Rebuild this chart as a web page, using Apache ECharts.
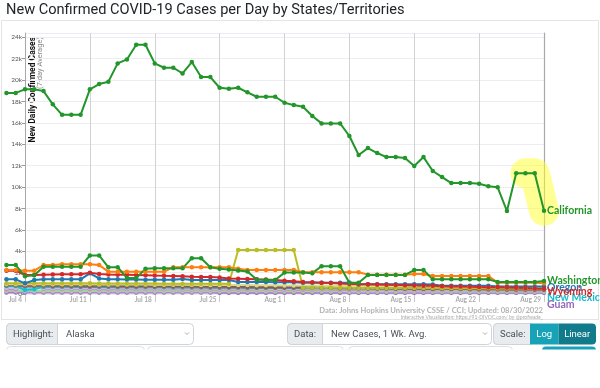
<!DOCTYPE html>
<html><head><meta charset="utf-8">
<script src="https://cdn.jsdelivr.net/npm/echarts@6/dist/echarts.min.js"></script>
<style>html,body{margin:0;padding:0;background:#fff}#c{width:600px;height:388px}</style>
</head><body><div id="c"></div>
<script>
const categories = ['Jul 2','Jul 3','Jul 4','Jul 5','Jul 6','Jul 7','Jul 8','Jul 9','Jul 10','Jul 11','Jul 12','Jul 13','Jul 14','Jul 15','Jul 16','Jul 17','Jul 18','Jul 19','Jul 20','Jul 21','Jul 22','Jul 23','Jul 24','Jul 25','Jul 26','Jul 27','Jul 28','Jul 29','Jul 30','Jul 31','Aug 1','Aug 2','Aug 3','Aug 4','Aug 5','Aug 6','Aug 7','Aug 8','Aug 9','Aug 10','Aug 11','Aug 12','Aug 13','Aug 14','Aug 15','Aug 16','Aug 17','Aug 18','Aug 19','Aug 20','Aug 21','Aug 22','Aug 23','Aug 24','Aug 25','Aug 26','Aug 27','Aug 28','Aug 29'];

const california = [18800,18800, 19130,19130,18970,17730,16750,16750,16750, 19130,19630,19850,21560,21930,23300,23300, 21560,21150,21150,20620,21680,20280,20280, 19280,19190,19280,18850,18440,18440,18440, 17880,17660,17510,16640,15950,15950,15950, 14770,12990,13640,13180,12800,12800,12710, 11960,12800,11500,10930,10370,10370,10370, 10300,10070,9970,7760,11280,11280,11280, 7790];
const washington = [2700,2700, 1650,1750,2550,2550,2550,2550,2550, 3600,3600,2500,2500,1500,1500,2350, 2400,2400,2400,2400,3350,3350,2500, 2350,2300,2200,2100,1350,1300,1300, 2000,2000,2000,1950,2600,2600,2600, 1060,1060,1780,1780,1780,1780,1780, 2240,2240,1370,1370,1370,1370,1370, 1370,1370,1120,1120,1120,1120,1120, 1210];
const orange = [2240,2240, 2180,2180,2710,2710,2770,2770,2770, 2770,2700,2090,2090,2090,2090,2090, 2090,2090,2490,2490,2490,2490,2490, 2490,2490,2370,2240,2240,2240,2240, 2240,2240,2030,2030,2030,2030,2030, 2030,2030,1810,1810,1810,1810,1810, 1870,1870,1680,1680,1680,1680,1680, 1680,1680,1060,1060,1060,1060,1060, 1000];
const olive = [1000,1000, 1000,1000,1000,1000,1000,1000,1000, 1000,990,980,980,980,970,970, 970,960,960,960,950,950,950, 950,950,4110,4110,4110,4110,4110, 4110,4110,590,590,590,580,580, 580,570,570,570,560,560,560, 550,550,550,540,540,540,530, 530,530,520,520,510,510,500, 500];
const wyoming = [2180,2180, 1780,1780,1800,1820,1840,1840,1840, 1990,1870,1820,1800,1790,1780,1760, 1720,1700,1690,1670,1620,1600,1580, 1540,1460,1430,1400,1370,1350,1320, 1250,1200,1120,1100,1060,1020,980, 930,920,900,880,860,830,810, 800,780,760,730,700,690,680, 660,640,620,600,580,560,520, 500];
const oregon = [1370,1370, 1000,1300,1370,1370,1370,1370,1370, 1930,1460,1370,1370,1350,1350,1340, 1340,1330,1330,1400,1310,1310,1310, 1310,1300,1120,1120,1120,1120,1110, 1100,1090,1060,1060,1060,1060,1060, 1060,900,900,900,900,900,900, 900,900,880,780,780,780,780, 780,780,690,690,690,690,690, 690];
const newMexico = [750,750, 370,450,700,720,720,720,720, 800,730,720,720,720,720,720, 720,710,710,710,710,700,700, 700,700,690,680,680,670,660, 650,640,630,620,610,600,590, 580,570,560,560,550,540,530, 520,520,510,500,500,490,490, 480,480,470,470,460,460,450, 450];
const pink = [450,450, 750,750,480,460,460,460,460, 460,450,450,450,450,450,440, 440,440,440,430,430,430,430, 420,420,420,410,410,410,400, 400,400,400,390,390,390,380, 380,380,380,370,370,370,360, 360,360,360,350,350,350,350, 340,340,340,340,330,330,330, 330];
const brown = [820,820, 800,790,790,780,780,780,770, 770,760,760,750,750,740,740, 730,730,720,720,710,700,700, 690,680,680,670,660,650,640, 630,620,610,600,590,580,570, 560,550,540,540,530,520,510, 500,500,490,480,470,460,460, 450,440,440,430,430,420,420, 410];
const lightOlive = [920,920, 900,900,900,900,900,900,900, 900,890,890,890,880,880,880, 870,870,860,860,860,850,850, 840,840,830,830,820,820,810, 800,800,790,790,780,780,770, 760,760,750,750,740,740,730, 720,720,710,710,700,700,690, 680,680,670,670,660,660,650, 650];
const gray = [760,760, 700,690,680,680,670,670,660, 660,650,650,640,640,630,630, 620,620,610,610,600,600,590, 590,580,580,570,570,560,560, 550,550,540,540,530,530,520, 520,510,510,500,500,490,490, 480,480,470,470,460,460,450, 450,440,440,430,430,420,420, 410];
const lightBlue = [560,560, 550,550,550,540,540,540,530, 560,530,530,520,520,520,510, 510,510,500,500,500,490,490, 490,480,480,480,470,470,470, 460,460,460,450,450,450,440, 440,440,430,430,430,420,420, 420,410,410,410,400,400,400, 390,390,390,390,380,380,380, 380];
const lightGreen = [340,340, 330,330,330,330,330,330,330, 330,330,320,320,320,320,320, 320,310,310,310,310,310,310, 300,300,300,300,300,300,290, 290,290,290,290,290,280,280, 280,280,280,280,270,270,270, 270,270,260,260,260,260,260, 260,250,250,250,250,250,250, 240];
const lilac = [250,250, 240,240,240,240,240,240,240, 240,240,240,240,240,240,240, 235,235,235,235,235,235,235, 230,230,230,230,230,230,230, 225,225,225,225,225,225,225, 220,220,220,220,220,220,220, 215,215,215,215,215,215,215, 210,210,210,210,210,210,210, 210];
const guam = [140,140, 130,130,130,130,130,130,130, 130,130,130,130,130,130,130, 130,130,130,130,130,130,130, 125,125,125,125,125,125,125, 125,125,125,125,125,125,125, 120,120,120,120,120,120,120, 120,120,120,120,120,120,120, 120,120,120,120,120,120,120, 120];

const yMax = 24400;
const highlightFrom = 'Aug 27';

const chart = echarts.init(document.getElementById('c'), null, {renderer:'canvas'});
const LBL = 'Lato, "Open Sans", sans-serif';

function line(name, data, color, label, offset) {
  const s = {
    type:'line', name, data, xAxisIndex:0, yAxisIndex:0,
    symbol:'circle', symbolSize:4.5, showSymbol:true,
    lineStyle:{width:2, color}, itemStyle:{color},
    clip:false, silent:true, animation:false, emphasis:{disabled:true}
  };
  if (label) {
    s.endLabel = {show:true, formatter:label, color, fontWeight:'bold', fontSize:10.5,
      fontFamily:LBL, distance:3, offset:offset||[0,0]};
  }
  return s;
}

const hiIdx = categories.indexOf(highlightFrom);
const highlight = {
  type:'line', data: california.map((v,i)=> i>=hiIdx ? v : '-'),
  xAxisIndex:0, yAxisIndex:0, showSymbol:false, symbol:'none', silent:true, animation:false, z:1,
  lineStyle:{width:30, color:'rgba(255,255,40,0.5)', cap:'round', join:'round'}, clip:false
};

const series = [
  highlight,
  line('Guam', guam, '#9467bd', 'Guam', [0,12]),
  line('s-lilac', lilac, '#c5b0d5'),
  line('s-lgreen', lightGreen, '#98df8a'),
  line('s-pink', pink, '#e377c2'),
  line('s-lblue', lightBlue, '#aec7e8'),
  line('s-gray', gray, '#7f7f7f'),
  line('New Mexico', newMexico, '#17becf', 'New Mexico', [0,8]),
  line('s-brown', brown, '#8c564b'),
  line('s-lolive', lightOlive, '#dbdb8d'),
  line('s-olive', olive, '#bcbd22'),
  line('Oregon', oregon, '#1f77b4', 'Oregon', [0,0.5]),
  line('Wyoming', wyoming, '#d62728', 'Wyoming', [0,2.5]),
  line('s-orange', orange, '#ff7f0e'),
  line('Washington', washington, '#22962a', 'Washington', [0,0]),
  line('California', california, '#22962a', 'California', [0,0])
];

function txt(x, y, text, font, fill, align, rotation) {
  const el = {type:'text', x, y, silent:true,
    style:{text, font, fill, align: align || 'left', verticalAlign:'middle'}};
  if (rotation) el.rotation = rotation;
  return el;
}

function control(x, y, w, h, labelW, label, value) {
  const els = [
    {type:'rect', silent:true, shape:{x:x+0.5, y:y+0.5, width:w, height:h, r:4}, style:{fill:'#fff', stroke:'#ced4da', lineWidth:1}},
    {type:'rect', silent:true, shape:{x:x+0.5, y:y+0.5, width:labelW, height:h, r:[4,0,0,4]}, style:{fill:'#e9ecef', stroke:'#ced4da', lineWidth:1}},
    txt(x+7, y+h/2+1, label, '9.5px Roboto', '#495057'),
  ];
  if (value) {
    els.push(txt(x+labelW+9, y+h/2+1, value, '9.5px Roboto', '#495057'));
    els.push({type:'polyline', silent:true, shape:{points:[[x+w-8,y+h/2-1],[x+w-6,y+h/2+1],[x+w-4,y+h/2-1]]}, style:{stroke:'#999', lineWidth:0.8, fill:'none'}});
  }
  return els;
}

const graphic = [].concat(
  [{type:'rect', silent:true, z:-10, shape:{x:1.5, y:20.5, width:597, height:299}, style:{fill:'none', stroke:'#e4e4e4', lineWidth:1}}],
  [txt(6, 10, 'New Confirmed COVID-19 Cases per Day by States/Territories', '14.6px Roboto', '#212529')],
  [txt(33, 37, 'New Daily Confirmed Cases', 'bold 8.5px Roboto', '#111', 'right', Math.PI/2)],
  [txt(40.5, 37, '(7-day Average)', '7.5px Roboto', '#888', 'right', Math.PI/2)],
  [txt(543, 311, 'Data: Johns Hopkins University CSSE / CCI; Updated: 08/30/2022', 'bold 7.6px ' + LBL, '#b3b3b3', 'right')],
  [txt(543, 317.5, 'Interactive Visualization: https://91-DIVOC.com/ by @profwade_', '5px ' + LBL, '#aaa', 'right')],
  control(6, 323, 187, 21, 51, 'Highlight:', 'Alaska'),
  control(287, 323, 204, 21, 35, 'Data:', 'New Cases, 1 Wk. Avg.'),
  control(493, 323, 37, 21, 37, 'Scale:', null),
  [
    {type:'rect', silent:true, shape:{x:530, y:323.5, width:28.5, height:21}, style:{fill:'#17a2b8'}},
    {type:'rect', silent:true, shape:{x:558.5, y:323.5, width:37.5, height:21, r:[0,4,4,0]}, style:{fill:'#117a8b'}},
    txt(544.2, 334.5, 'Log', '9.5px Roboto', '#fff', 'center'),
    txt(577.2, 334.5, 'Linear', '9.5px Roboto', '#fff', 'center'),
    {type:'rect', silent:true, shape:{x:6.5, y:346.5, width:138, height:6, r:[4,4,0,0]}, style:{fill:'#fff', stroke:'#dde1e5'}},
    {type:'rect', silent:true, shape:{x:147.5, y:346.5, width:196, height:6, r:[4,4,0,0]}, style:{fill:'#fff', stroke:'#dde1e5'}},
    {type:'rect', silent:true, shape:{x:348.5, y:346.5, width:164, height:6, r:[4,4,0,0]}, style:{fill:'#fff', stroke:'#dde1e5'}},
    {type:'rect', silent:true, shape:{x:542, y:346.5, width:54, height:6, r:[4,4,0,0]}, style:{fill:'#17a2b8'}},
    {type:'rect', silent:true, z:100, shape:{x:0, y:349.5, width:600, height:40}, style:{fill:'#fff'}}
  ]
);

chart.setOption({
  animation:false,
  backgroundColor:'#fff',
  grid:[
    {left:6.46, right:56, top:33, bottom:94, containLabel:false, outerBoundsMode:'none'},
    {left:25, right:56, top:33, bottom:94, containLabel:false, outerBoundsMode:'none'}
  ],
  xAxis:[
    {gridIndex:0, type:'category', data:categories, boundaryGap:false, show:false},
    {gridIndex:1, type:'category', data:categories.slice(2), boundaryGap:false,
      axisLine:{show:false},
      axisTick:{show:true, interval:6, length:8, lineStyle:{color:'#c8c8c8'}},
      axisLabel:{show:true, interval:6, align:'right', verticalAlign:'middle', margin:6, padding:[0,3,0,0],
        fontSize:6.5, fontWeight:'bold', color:'#aaa', fontFamily:LBL},
      splitLine:{show:true, interval:6, lineStyle:{color:'#d2d2d2', width:1}}}
  ],
  yAxis:[
    {gridIndex:0, type:'value', min:0, max:yMax, show:false},
    {gridIndex:1, type:'value', min:0, max:yMax, interval:2000, position:'left',
      axisLine:{show:true, lineStyle:{color:'#a8a8a8', width:1}},
      axisTick:{show:true, length:3, lineStyle:{color:'#999'}},
      axisLabel:{show:true, margin:3, fontSize:6.5, color:'#555', fontFamily:LBL, showMaxLabel:false,
        formatter: v => v === 0 ? '0' : (v/1000) + 'k'},
      splitLine:{show:true, lineStyle:{color:'#ececf2', width:1}}},
    {gridIndex:1, type:'value', min:0, max:yMax, interval:2000, position:'right',
      axisLine:{show:true, lineStyle:{color:'#a8a8a8', width:1.2}},
      axisTick:{show:false}, axisLabel:{show:false}, splitLine:{show:false}}
  ],
  graphic: graphic,
  series: series
});
</script></body></html>
